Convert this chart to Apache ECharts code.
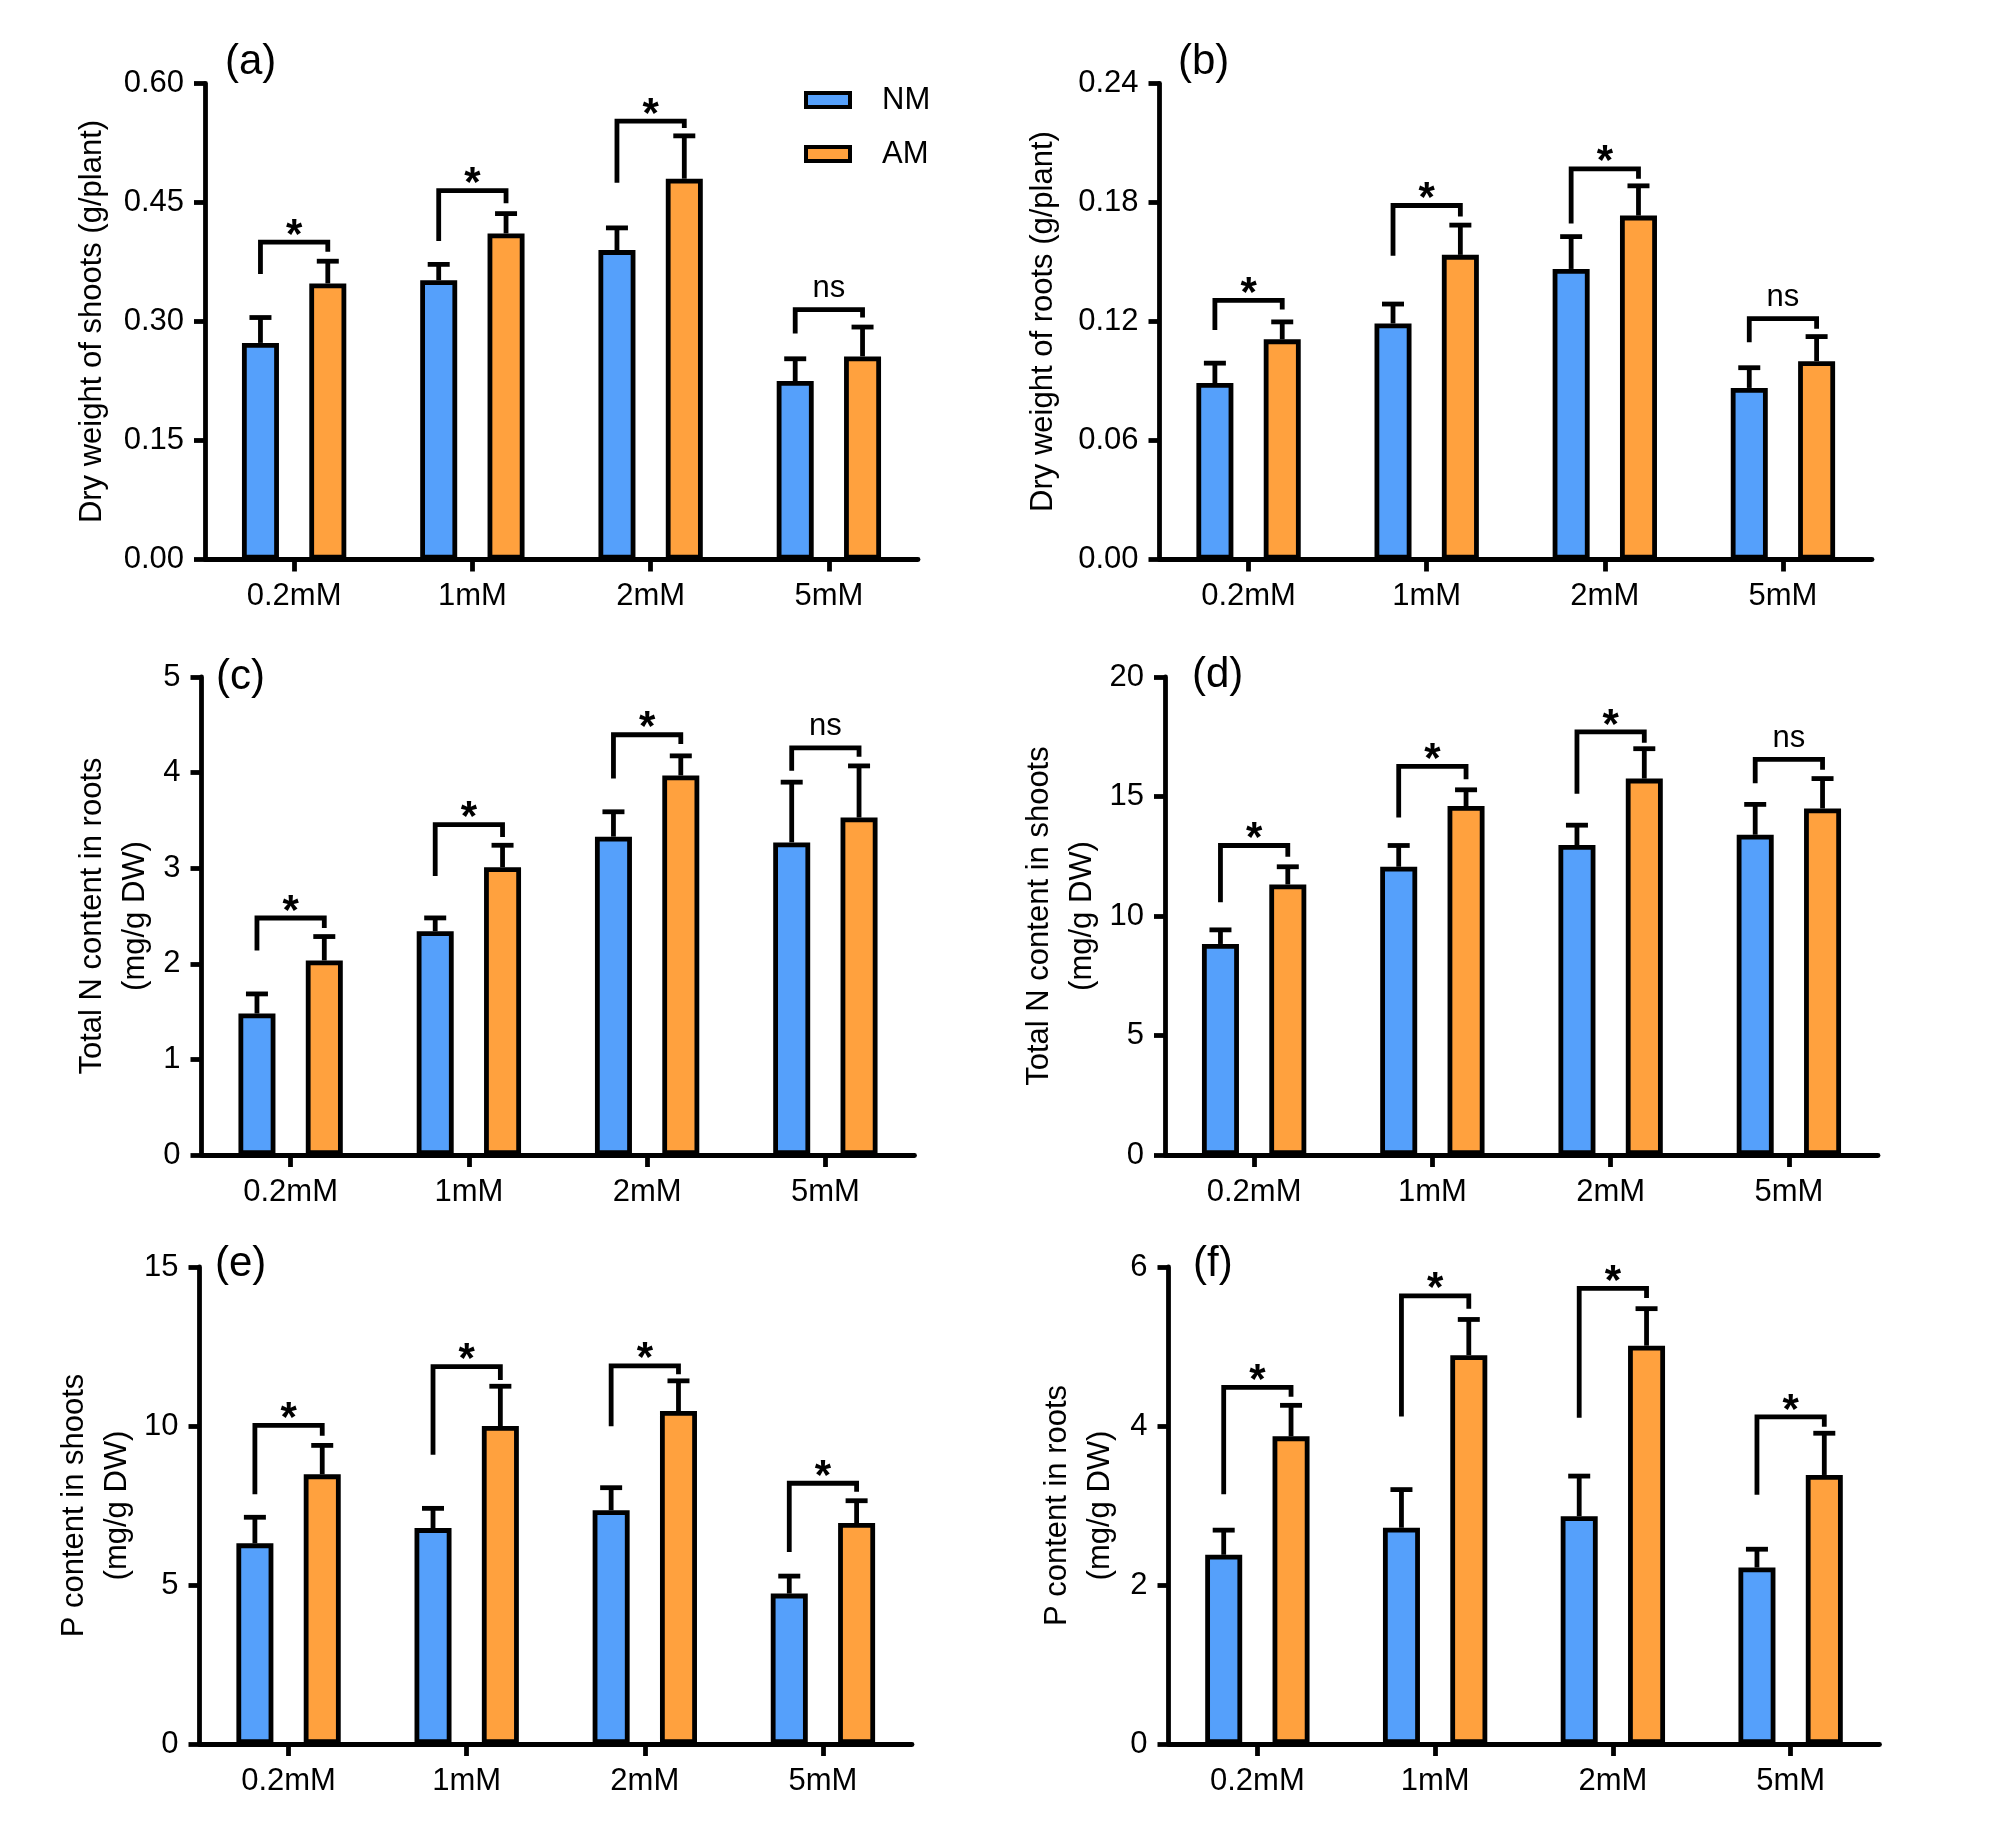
<!DOCTYPE html>
<html><head><meta charset="utf-8">
<script src="https://cdn.jsdelivr.net/npm/echarts@6/dist/echarts.min.js"></script>
<style>html,body{margin:0;padding:0;background:#fff}#c{width:2008px;height:1838px}</style>
</head><body><div id="c"></div>
<script>
// ---------------- DATA ----------------
const categories = ['0.2mM', '1mM', '2mM', '5mM'];
const seriesNames = ['NM', 'AM'];

// (a) Dry weight of shoots (g/plant)
const aNM = [0.273, 0.352, 0.390, 0.225];
const aNMerr = [0.032, 0.020, 0.028, 0.028];
const aAM = [0.348, 0.411, 0.480, 0.256];
const aAMerr = [0.028, 0.025, 0.054, 0.037];
const aBrTop = [0.400, 0.465, 0.5525, 0.315];
const aBrLeft = [0.360, 0.4015, 0.475, 0.285];
const aBrRight = [0.388, 0.449, 0.544, 0.305];
const aSig = ['*', '*', '*', 'ns'];

// (b) Dry weight of roots (g/plant)
const bNM = [0.089, 0.119, 0.1465, 0.0865];
const bNMerr = [0.010, 0.0098, 0.0163, 0.0102];
const bAM = [0.111, 0.1536, 0.1734, 0.100];
const bAMerr = [0.0088, 0.015, 0.015, 0.0124];
const bBrTop = [0.1307, 0.1785, 0.197, 0.1214];
const bBrLeft = [0.1157, 0.1532, 0.1694, 0.1096];
const bBrRight = [0.126, 0.1729, 0.192, 0.1164];
const bSig = ['*', '*', '*', 'ns'];

// (c) Total N content in roots (mg/g DW)
const cNM = [1.48, 2.34, 3.33, 3.27];
const cNMerr = [0.205, 0.14, 0.26, 0.63];
const cAM = [2.035, 3.01, 3.97, 3.53];
const cAMerr = [0.25, 0.23, 0.205, 0.54];
const cBrTop = [2.479, 3.455, 4.396, 4.258];
const cBrLeft = [2.14, 2.918, 3.9375, 4.02];
const cBrRight = [2.374, 3.327, 4.30, 4.167];
const cSig = ['*', '*', '*', 'ns'];

// (d) Total N content in shoots (mg/g DW)
const dNM = [8.83, 12.06, 12.97, 13.4];
const dNMerr = [0.59, 0.89, 0.83, 1.27];
const dAM = [11.32, 14.6, 15.75, 14.5];
const dAMerr = [0.74, 0.68, 1.25, 1.25];
const dBrTop = [12.95, 16.26, 17.7, 16.55];
const dBrLeft = [10.58, 14.12, 15.12, 15.55];
const dBrRight = [12.48, 15.72, 17.25, 16.12];
const dSig = ['*', '*', '*', 'ns'];

// (e) P content in shoots (mg/g DW)
const eNM = [6.31, 6.79, 7.35, 4.73];
const eNMerr = [0.82, 0.62, 0.71, 0.55];
const eAM = [8.48, 10.0, 10.47, 6.95];
const eAMerr = [0.91, 1.25, 0.95, 0.70];
const eBrTop = [10.02, 11.87, 11.89, 8.2];
const eBrLeft = [7.857, 9.095, 9.99, 6.04];
const eBrRight = [9.69, 11.45, 11.63, 7.93];
const eSig = ['*', '*', '*', '*'];

// (f) P content in roots (mg/g DW)
const fNM = [2.38, 2.72, 2.865, 2.22];
const fNMerr = [0.31, 0.48, 0.505, 0.23];
const fAM = [3.87, 4.89, 5.01, 3.384];
const fAMerr = [0.39, 0.45, 0.466, 0.525];
const fBrTop = [4.486, 5.638, 5.73, 4.114];
const fBrLeft = [3.143, 4.119, 4.104, 3.135];
const fBrRight = [4.367, 5.476, 5.61, 3.99];
const fSig = ['*', '*', '*', '*'];

// Axis settings
const panelLabels = ['(a)', '(b)', '(c)', '(d)', '(e)', '(f)'];
const yTitles = [
  'Dry weight of shoots (g/plant)',
  'Dry weight of roots (g/plant)',
  'Total N content in roots\n(mg/g DW)',
  'Total N content in shoots\n(mg/g DW)',
  'P content in shoots\n(mg/g DW)',
  'P content in roots\n(mg/g DW)'
];
const yMax = [0.60, 0.24, 5, 20, 15, 6];
const yInterval = [0.15, 0.06, 1, 5, 5, 2];
const yDecimals = [2, 2, 0, 0, 0, 0];

const panels = [
  { nm: aNM, nmErr: aNMerr, am: aAM, amErr: aAMerr, top: aBrTop, left: aBrLeft, right: aBrRight, sig: aSig },
  { nm: bNM, nmErr: bNMerr, am: bAM, amErr: bAMerr, top: bBrTop, left: bBrLeft, right: bBrRight, sig: bSig },
  { nm: cNM, nmErr: cNMerr, am: cAM, amErr: cAMerr, top: cBrTop, left: cBrLeft, right: cBrRight, sig: cSig },
  { nm: dNM, nmErr: dNMerr, am: dAM, amErr: dAMerr, top: dBrTop, left: dBrLeft, right: dBrRight, sig: dSig },
  { nm: eNM, nmErr: eNMerr, am: eAM, amErr: eAMerr, top: eBrTop, left: eBrLeft, right: eBrRight, sig: eSig },
  { nm: fNM, nmErr: fNMerr, am: fAM, amErr: fAMerr, top: fBrTop, left: fBrLeft, right: fBrRight, sig: fSig }
];

// ---------------- STYLE / LAYOUT ----------------
const FONT = "'Liberation Sans', Arial, Helvetica, sans-serif";
const BLUE = '#55A0FB';
const ORANGE = '#FFA13E';
const INK = '#000';
const LW = 4.8;
const BAR_W = 37;
const BAR_GAP = 0.82;
const OFF = (BAR_W + BAR_W * BAR_GAP) / 2;
const CAP = 11;

const gridRects = [
  { left: 205, top: 83.5, width: 713, height: 476 },
  { left: 1159.5, top: 83.5, width: 712.5, height: 476 },
  { left: 201.5, top: 677, width: 713, height: 478 },
  { left: 1165, top: 677, width: 713, height: 478 },
  { left: 199.5, top: 1267, width: 712.5, height: 477 },
  { left: 1168.5, top: 1267, width: 711, height: 477 }
];
const nameGaps = [95, 98, 45, 61.5, 61, 47];
const nameLineHeights = [36, 36, 43, 43, 43, 43];
const labelPos = [[225, 62], [1178, 62], [216, 677], [1192, 675], [215, 1264], [1193, 1264]];

const grid = [], xAxis = [], yAxis = [], series = [], graphic = [];

panels.forEach((p, i) => {
  grid.push(Object.assign({ containLabel: false }, gridRects[i]));
  xAxis.push({
    gridIndex: i, type: 'category', data: categories, boundaryGap: true,
    axisLine: { show: true, lineStyle: { color: INK, width: LW } },
    axisTick: { show: true, alignWithLabel: true, length: 12, lineStyle: { color: INK, width: LW } },
    axisLabel: { fontSize: 31, fontFamily: FONT, color: INK, margin: 19, lineHeight: 36 },
    splitLine: { show: false }
  });
  yAxis.push({
    gridIndex: i, type: 'value', min: 0, max: yMax[i], interval: yInterval[i],
    axisLine: { show: true, lineStyle: { color: INK, width: LW } },
    axisTick: { show: true, length: 11, lineStyle: { color: INK, width: LW } },
    axisLabel: { fontSize: 31, fontFamily: FONT, color: INK, margin: 21,
      formatter: v => Number(v).toFixed(yDecimals[i]) },
    splitLine: { show: false },
    name: yTitles[i], nameLocation: 'middle', nameGap: nameGaps[i],
    nameTextStyle: { fontSize: 31, fontFamily: FONT, color: INK, lineHeight: nameLineHeights[i], align: 'center' }
  });
  [p.nm, p.am].forEach((vals, s) => {
    series.push({
      type: 'bar', name: seriesNames[s], xAxisIndex: i, yAxisIndex: i,
      data: vals, barWidth: BAR_W, barGap: (BAR_GAP * 100) + '%',
      itemStyle: { color: s === 0 ? BLUE : ORANGE, borderColor: INK, borderWidth: LW },
      z: 2, silent: true
    });
  });
  const errData = [];
  [[p.nm, p.nmErr], [p.am, p.amErr]].forEach(([vals, errs], s) => {
    vals.forEach((v, c) => errData.push([c, s, v, errs[c]]));
  });
  series.push({
    type: 'custom', xAxisIndex: i, yAxisIndex: i, z: 3, silent: true,
    encode: { x: 0, y: 2 },
    data: errData,
    renderItem: (params, api) => {
      const c = api.value(0), s = api.value(1), m = api.value(2), e = api.value(3);
      const base = api.coord([c, m]);
      const top = api.coord([c, m + e]);
      const x = base[0] + (s === 0 ? -OFF : OFF);
      return {
        type: 'group', children: [
          { type: 'line', shape: { x1: x, y1: base[1], x2: x, y2: top[1] }, style: { stroke: INK, lineWidth: LW } },
          { type: 'line', shape: { x1: x - CAP, y1: top[1], x2: x + CAP, y2: top[1] }, style: { stroke: INK, lineWidth: LW } }
        ]
      };
    }
  });
  const brData = p.top.map((t, c) => [c, t, p.left[c], p.right[c]]);
  series.push({
    type: 'custom', xAxisIndex: i, yAxisIndex: i, z: 3, silent: true,
    encode: { x: 0, y: 1 },
    data: brData,
    renderItem: (params, api) => {
      const c = api.value(0);
      const pt = api.coord([c, api.value(1)]);
      const pl = api.coord([c, api.value(2)]);
      const pr = api.coord([c, api.value(3)]);
      const xl = pt[0] - OFF, xr = pt[0] + OFF;
      const lab = p.sig[params.dataIndex];
      const star = lab === '*';
      return {
        type: 'group', children: [
          { type: 'polyline', shape: { points: [[xl, pl[1]], [xl, pt[1]], [xr, pt[1]], [xr, pr[1]]] },
            style: { stroke: INK, lineWidth: LW, fill: null, lineJoin: 'miter' } },
          { type: 'text', x: pt[0], y: pt[1] - (star ? 6 : 21),
            style: { text: lab, fontSize: star ? 42 : 31, fontWeight: star ? 'bold' : 'normal', fontFamily: FONT,
              fill: INK, align: 'center', verticalAlign: 'middle' } }
        ]
      };
    }
  });
  graphic.push({
    type: 'text', x: labelPos[i][0], y: labelPos[i][1],
    style: { text: panelLabels[i], fontSize: 42, fontFamily: FONT, fill: INK, align: 'left', verticalAlign: 'middle' }
  });
});

const chart = echarts.init(document.getElementById('c'), null, { renderer: 'canvas' });
chart.setOption({
  animation: false,
  backgroundColor: '#fff',
  textStyle: { fontFamily: FONT },
  grid, xAxis, yAxis, series, graphic,
  legend: {
    data: seriesNames, orient: 'vertical', left: 804, top: 82, padding: 0,
    itemWidth: 44, itemHeight: 14, itemGap: 18, icon: 'rect', selectedMode: false,
    itemStyle: { borderColor: INK, borderWidth: 4 },
    textStyle: { fontSize: 31, fontFamily: FONT, color: INK, lineHeight: 36, padding: [0, 0, 0, 27] }
  }
});
</script>
</body></html>
